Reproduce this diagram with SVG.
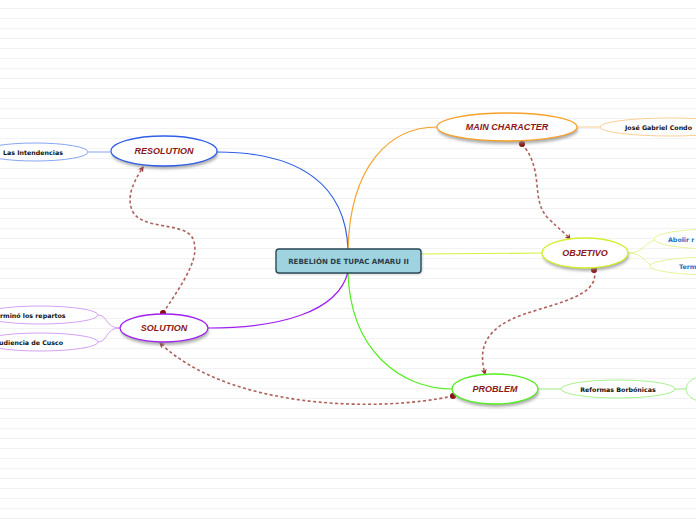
<svg xmlns="http://www.w3.org/2000/svg" width="696" height="520" viewBox="0 0 696 520">
<defs>
<pattern id="lines" width="696" height="10" patternUnits="userSpaceOnUse" y="0">
<rect x="0" y="8" width="696" height="1" fill="#f2f2f2"/>
</pattern>
<filter id="sh" x="-20%" y="-40%" width="140%" height="180%">
<feGaussianBlur stdDeviation="1.5"/>
</filter>
<marker id="arr" viewBox="0 0 10 10" refX="8" refY="5" markerWidth="6" markerHeight="6" orient="auto-start-reverse" markerUnits="userSpaceOnUse">
<path d="M0,0 L10,5 L0,10 L3,5 Z" fill="#8b1a1a"/>
</marker>
<style>
.main{font-family:"Liberation Sans",Arial,sans-serif;font-size:9px;font-weight:bold;font-style:italic;fill:#8b1a1a;text-anchor:middle}
.sub{font-family:"DejaVu Sans","Liberation Sans",sans-serif;font-size:6.3px;font-weight:bold;fill:#111}
.subb{font-family:"DejaVu Sans","Liberation Sans",sans-serif;font-size:6.3px;font-weight:bold;fill:#1a6fc4}
.shadow{fill:#888;opacity:0.7;filter:url(#sh)}
.dash{fill:none;stroke:#a5504a;stroke-width:1.6;stroke-dasharray:3,2.5;opacity:0.9}
.dot{fill:#8b0d0d}
</style>
</defs>
<rect width="696" height="520" fill="#ffffff"/>
<rect width="696" height="520" fill="url(#lines)"/>

<g id="connectors" fill="none">
<path d="M348,250 C 346,185 300,152 217,152" stroke="#2f5fe8" stroke-width="1.2"/>
<path d="M348,250 C 350,165 390,127 437,127" stroke="#f7a12a" stroke-width="1.2"/>
<path d="M421,254 L542,253" stroke="#d8f040" stroke-width="1.2"/>
<path d="M348,272 C 350,350 400,389 453,389" stroke="#55ee22" stroke-width="1.2"/>
<path d="M348,272 C 338,312 280,328 208,328" stroke="#a020f0" stroke-width="1.2"/>
<path d="M110,152 L88,152" stroke="#6a8ef0" stroke-width="0.8"/>
<path d="M577,127 L600,127" stroke="#f9c27a" stroke-width="0.8"/>
<path d="M628,253 C 645,253 645,240 660,239 M628,253 C 645,253 645,266 656,266" stroke="#e0f080" stroke-width="0.8"/>
<path d="M538,389 L561,389" stroke="#90ee70" stroke-width="0.8"/>
<path d="M675,389 L686,389" stroke="#90ee70" stroke-width="0.8"/>
<path d="M120,328 C 105,328 108,315 98,315 M120,328 C 105,328 108,342 98,342" stroke="#c88af0" stroke-width="0.8"/>
<path class="dash" d="M522,144 C 545,170 530,200 548,218 C 560,230 566,234 570,239" marker-end="url(#arr)"/>
<path class="dash" d="M594,270 C 602,300 540,305 510,320 C 480,335 480,355 485,374" marker-end="url(#arr)"/>
<path class="dash" d="M163,313 C 185,280 202,255 192,237 C 182,222 140,230 132,210 C 126,195 135,180 143,167" marker-end="url(#arr)"/>
<path class="dash" d="M453,396 C 380,412 230,410 160,343" marker-end="url(#arr)"/>
<circle class="dot" cx="522" cy="144" r="3"/>
<circle class="dot" cx="594" cy="270" r="3"/>
<circle class="dot" cx="163" cy="313" r="3"/>
<circle class="dot" cx="453" cy="396" r="3"/>
</g>

<g id="central">
<rect x="277" y="250" width="145" height="24" rx="3" fill="#555" opacity="0.4" filter="url(#sh)"/>
<rect x="276" y="249" width="145" height="24" rx="3" fill="#9fd3e0" stroke="#2d4a5a" stroke-width="1.4"/>
<text x="348.5" y="264" font-family="DejaVu Sans,'Liberation Sans',sans-serif" font-size="7.1" font-weight="bold" fill="#2d3e4a" text-anchor="middle">REBELIÓN DE TUPAC AMARU II</text>
</g>

<g id="resolution">
<ellipse class="shadow" cx="165" cy="154" rx="53" ry="15"/>
<ellipse cx="164" cy="151" rx="53" ry="15" fill="#fff" stroke="#2f5fe8" stroke-width="1.3"/>
<text class="main" x="164" y="154">RESOLUTION</text>
</g>

<g id="main-character">
<ellipse class="shadow" cx="508" cy="130" rx="70" ry="14"/>
<ellipse cx="507" cy="127" rx="70" ry="14" fill="#fff" stroke="#f7a12a" stroke-width="1.3"/>
<text class="main" x="507" y="130">MAIN CHARACTER</text>
</g>

<g id="objetivo">
<ellipse class="shadow" cx="586" cy="256" rx="43" ry="15"/>
<ellipse cx="585" cy="253" rx="43" ry="15" fill="#fff" stroke="#d4ee30" stroke-width="1.3"/>
<text class="main" x="585" y="256">OBJETIVO</text>
</g>

<g id="problem">
<ellipse class="shadow" cx="496" cy="392" rx="43" ry="15"/>
<ellipse cx="495" cy="389" rx="43" ry="15" fill="#fff" stroke="#55ee22" stroke-width="1.3"/>
<text class="main" x="495" y="392">PROBLEM</text>
</g>

<g id="solution">
<ellipse class="shadow" cx="165" cy="331" rx="44" ry="14"/>
<ellipse cx="164" cy="328" rx="44" ry="14" fill="#fff" stroke="#a020f0" stroke-width="1.3"/>
<text class="main" x="164" y="331">SOLUTION</text>
</g>

<g id="las-intendencias">
<ellipse cx="35" cy="152" rx="53" ry="9" fill="#fff" stroke="#6a8ef0" stroke-width="0.8"/>
<text class="sub" x="3" y="154.5">Las Intendencias</text>
</g>

<g id="jose-gabriel">
<ellipse cx="670" cy="127" rx="70" ry="9" fill="#fff" stroke="#f9c27a" stroke-width="0.8"/>
<text class="sub" x="625" y="129.5">José Gabriel Condo</text>
</g>

<g id="abolir">
<ellipse cx="715" cy="239" rx="61" ry="10" fill="#fff" stroke="#e0f080" stroke-width="0.8"/>
<text class="subb" x="668" y="241.5">Abolir r</text>
</g>

<g id="term">
<ellipse cx="715" cy="266" rx="65" ry="9" fill="#fff" stroke="#e0f080" stroke-width="0.8"/>
<text class="subb" x="679" y="268.5">Term</text>
</g>

<g id="reformas">
<ellipse cx="618" cy="389" rx="57" ry="9" fill="#fff" stroke="#90ee70" stroke-width="0.8"/>
<text class="sub" x="618" y="391.5" text-anchor="middle">Reformas Borbónicas</text>
</g>

<g id="problem-child">
<ellipse cx="710" cy="389" rx="24" ry="14" fill="#fff" stroke="#90ee70" stroke-width="0.8"/>
</g>

<g id="termino">
<ellipse cx="40" cy="315" rx="58" ry="9" fill="#fff" stroke="#c88af0" stroke-width="0.8"/>
<text class="sub" x="0" y="317.5">rminó los repartos</text>
</g>

<g id="audiencia">
<ellipse cx="40" cy="342" rx="58" ry="9" fill="#fff" stroke="#c88af0" stroke-width="0.8"/>
<text class="sub" x="-1" y="344.5">udiencia de Cusco</text>
</g>
</svg>
